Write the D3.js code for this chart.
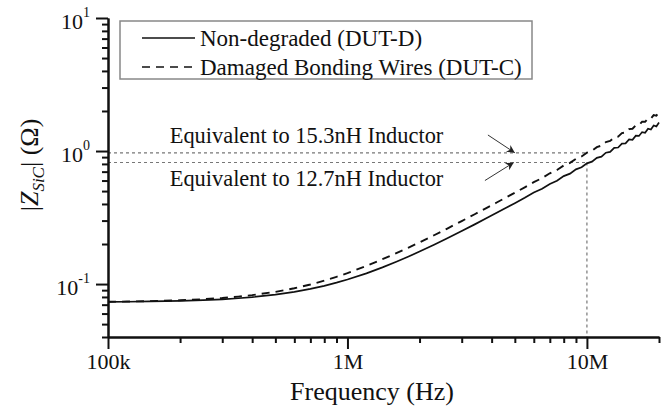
<!DOCTYPE html>
<html><head><meta charset="utf-8">
<script src="https://cdn.jsdelivr.net/npm/d3@7"></script>
<style>body{margin:0;background:#fff}svg{display:block}
svg text{font-family:"Liberation Serif","Tinos","Noto Serif","FreeSerif","Nimbus Roman","Times New Roman",Times,"DejaVu Serif",Georgia,serif;}</style>
</head><body><svg id="c" width="667" height="408"></svg>
<script>
// ---- data ----
const freqHz = [1e5,1.2e5,1.5e5,2e5,2.5e5,3e5,3.5e5,4e5,5e5,6e5,7e5,8e5,9e5,
  1e6,1.2e6,1.4e6,1.6e6,1.8e6,2e6,2.3e6,2.6e6,3e6,3.4e6,3.8e6,4.2e6,4.6e6,5e6,5.5e6,
  6e6,6.5e6,7e6,7.5e6,8e6,8.5e6,9e6,9.5e6,10e6,10.5e6,11e6,11.5e6,12e6,12.5e6,13e6,
  13.5e6,14e6,14.5e6,15e6,15.5e6,16e6,16.5e6,17e6,17.5e6,18e6,18.5e6,19e6,19.5e6,20e6];
const nonDegraded = [0.0734,0.0736,0.0740,0.0747,0.0757,0.0768,0.0782,0.0797,0.0832,0.0873,0.0919,0.0970,0.1024,
  0.1082,0.1204,0.1335,0.1471,0.1611,0.1755,0.1975,0.2200,0.2503,0.2810,0.3119,0.3430,0.3743,0.4056,0.4449,
  0.487,0.521,0.566,0.598,0.648,0.676,0.728,0.755,0.808,0.832,0.889,0.908,0.972,0.985,1.055,
  1.062,1.138,1.141,1.222,1.214,1.305,1.298,1.388,1.372,1.470,1.452,1.555,1.531,1.640];
const damagedWires = [0.0736,0.0739,0.0744,0.0755,0.0769,0.0785,0.0804,0.0825,0.0874,0.0930,0.0992,0.1060,0.1133,
  0.1208,0.1369,0.1537,0.1709,0.1882,0.2056,0.2328,0.2603,0.2975,0.3349,0.3725,0.4102,0.4481,0.4861,0.5336,
  0.583,0.627,0.680,0.721,0.778,0.815,0.874,0.910,0.972,1.004,1.070,1.098,1.168,1.190,1.265,
  1.283,1.364,1.377,1.462,1.470,1.562,1.565,1.662,1.658,1.762,1.752,1.862,1.845,1.960];
const seriesNames = ["Non-degraded (DUT-D)", "Damaged Bonding Wires (DUT-C)"];
const xTickValues = [1e5, 1e6, 1e7];
const xTickLabels = ["100k", "1M", "10M"];
const yTickValues = [0.1, 1, 10];
const yTickExponents = ["-1", "0", "1"];
const refLevels = [0.97, 0.82];           // |Z| at 10 MHz
const refFreq = 1e7;
const refLabels = ["Equivalent to 15.3nH Inductor", "Equivalent to 12.7nH Inductor"];
const refLabelPos = [[1.81e5, 1.15], [1.81e5, 0.55]];       // [freq, |Z|] of text start
const refArrows = [[[3.86e6, 1.32], [5.0e6, 0.97]], [[3.75e6, 0.60], [4.95e6, 0.82]]];

// ---- layout ----
const svg = d3.select("#c");
const x = d3.scaleLog().domain([1e5, 2e7]).range([108, 659]);
const y = d3.scaleLog().domain([0.04, 10]).range([337, 18]);

svg.append("defs").append("marker").attr("id","ah").attr("viewBox","0 0 10 10")
  .attr("refX",10).attr("refY",5).attr("markerWidth",10).attr("markerHeight",8)
  .attr("markerUnits","userSpaceOnUse").attr("orient","auto")
  .append("path").attr("d","M0,0L10,5L0,10L3,5Z").attr("fill","#222");

// minor ticks
const xMinor = [], yMinor = [];
[1e5,1e6,1e7].forEach(d => { for (let k=2;k<=9;k++){ const v=k*d; if (v<=2e7) xMinor.push(v);} });
[0.01,0.1,1].forEach(d => { for (let k=2;k<=9;k++){ const v=k*d; if (v>=0.04 && v<=10) yMinor.push(v);} });

// reference dotted lines
const refG = svg.append("g").attr("stroke","#777").attr("stroke-width",1.2).attr("stroke-dasharray","3,3");
refLevels.forEach(v => refG.append("line").attr("x1",x(1e5)).attr("x2",x(refFreq)).attr("y1",y(v)).attr("y2",y(v)));
refG.append("line").attr("x1",x(refFreq)).attr("x2",x(refFreq)).attr("y1",y(d3.min(refLevels))).attr("y2",y(0.04));

// axes
const axX = svg.append("g").attr("transform",`translate(0,${y(0.04)})`);
axX.call(d3.axisBottom(x).tickValues(xMinor).tickSize(6).tickSizeOuter(0).tickFormat(""));
const axXM = svg.append("g").attr("transform",`translate(0,${y(0.04)})`);
axXM.call(d3.axisBottom(x).tickValues(xTickValues).tickSize(12).tickSizeOuter(0)
  .tickFormat((d,i)=>xTickLabels[i]).tickPadding(4));
const axY = svg.append("g").attr("transform",`translate(${x(1e5)},0)`);
axY.call(d3.axisLeft(y).tickValues(yMinor).tickSize(6).tickSizeOuter(0).tickFormat(""));
const axYM = svg.append("g").attr("transform",`translate(${x(1e5)},0)`);
axYM.call(d3.axisLeft(y).tickValues(yTickValues).tickSize(12).tickSizeOuter(0).tickFormat(""));
svg.selectAll("g").attr("font-family", null);
svg.selectAll(".domain").attr("stroke","#111").attr("stroke-width",2);
svg.selectAll(".tick line").attr("stroke","#111").attr("stroke-width",2);
axXM.selectAll(".tick text").attr("font-size",22).attr("fill","#111");

// y tick labels with superscripts
yTickValues.forEach((v,i) => {
  const t = svg.append("text").attr("x",90).attr("y",y(v)+11).attr("text-anchor","end")
    .attr("font-size",22).attr("fill","#111");
  t.append("tspan").text("10");
  t.append("tspan").attr("font-size",14).attr("dy",-12).text(yTickExponents[i]);
});

// curves
const line = d3.line().x((d,i)=>x(freqHz[i])).y(d=>y(d));
svg.append("path").datum(nonDegraded).attr("d",line).attr("fill","none")
  .attr("stroke","#111").attr("stroke-width",1.7);
svg.append("path").datum(damagedWires).attr("d",line).attr("fill","none")
  .attr("stroke","#111").attr("stroke-width",1.9).attr("stroke-dasharray","8,6");

// annotation text + arrows
refLabels.forEach((s,i) => {
  svg.append("text").attr("x",x(refLabelPos[i][0])).attr("y",y(refLabelPos[i][1]))
    .attr("font-size",22.4).attr("fill","#111").text(s);
  const a = refArrows[i];
  svg.append("line").attr("x1",x(a[0][0])).attr("y1",y(a[0][1]))
    .attr("x2",x(a[1][0])).attr("y2",y(a[1][1]))
    .attr("stroke","#333").attr("stroke-width",1).attr("marker-end","url(#ah)");
});

// legend
const lg = svg.append("g");
lg.append("rect").attr("x",120).attr("y",21).attr("width",412).attr("height",58)
  .attr("fill","#fff").attr("stroke","#888").attr("stroke-width",1.5);
seriesNames.forEach((s,i) => {
  const cy = 38 + i*29;
  lg.append("line").attr("x1",142).attr("x2",195).attr("y1",cy).attr("y2",cy)
    .attr("stroke","#111").attr("stroke-width",1.6).attr("stroke-dasharray", i ? "8,6" : null);
  lg.append("text").attr("x",200).attr("y",cy+8).attr("font-size",23)
    .attr("fill","#111").text(s);
});

// axis titles
svg.append("text").attr("x",372).attr("y",400).attr("text-anchor","middle")
  .attr("font-size",26).attr("fill","#111").text("Frequency (Hz)");
const yl = svg.append("text").attr("transform","translate(38,165) rotate(-90)").attr("text-anchor","middle")
  .attr("font-size",26).attr("fill","#111");
yl.append("tspan").text("|");
yl.append("tspan").attr("font-style","italic").text("Z");
yl.append("tspan").attr("font-style","italic").attr("font-size",17).attr("dy",6).text("SiC");
yl.append("tspan").attr("dy",-6).text("| (Ω)");
</script></body></html>
